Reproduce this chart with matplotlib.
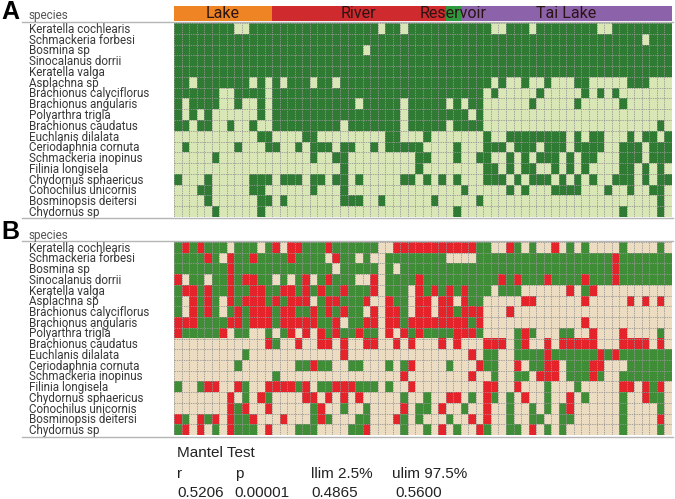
import numpy as np
import matplotlib
matplotlib.use("Agg")
import matplotlib.pyplot as plt
import matplotlib.transforms as mtransforms
from matplotlib.colors import ListedColormap
from matplotlib.lines import Line2D
from matplotlib import font_manager

W, H = 675, 499

species = ["Keratella cochlearis", "Schmackeria forbesi", "Bosmina sp", "Sinocalanus dorrii",
           "Keratella valga", "Asplachna sp", "Brachionus calyciflorus", "Brachionus angularis",
           "Polyarthra trigla", "Brachionus caudatus", "Euchlanis dilalata", "Ceriodaphnia cornuta",
           "Schmackeria inopinus", "Filinia longisela", "Chydornus sphaericus", "Conochilus unicornis",
           "Bosminopsis deitersi", "Chydornus sp"]

groups = ["Lake", "River", "Reservoir", "Tai Lake"]
group_sizes = [13, 23, 2, 28]          # number of sampling sites in each group
group_colors = ["#ee8424", "#cf2a2e", "#2f9a3d", "#8c62ab"]

# panel A: 1 = species present (dark), 0 = absent (light); blocks of 11 sites
presence = [
    "11111111001 11111111111 11111011011 11111111100 11101111111 10011111111",
    "11111111111 11111111111 11111111111 11111111111 11111111111 11111110111",
    "11111111111 11111111111 11101111111 11111111111 11111111111 11111111111",
    "11111111111 11111111111 11111111111 11111111111 11111111111 11111111111",
    "11111111111 11111111111 11111111111 11111111111 11111111111 11111111111",
    "11011111110 10101110110 11111111111 11111111101 00100100011 00000111000",
    "11111100111 10111111111 11111111111 11111111010 00001000001 01010000000",
    "10111100100 10111111111 11011111011 11101011000 00010000010 00001000000",
    "10101000000 10111111111 11111111011 11111101000 00000000000 00000000000",
    "11011001001 00111111111 01111111011 11101111000 00000000000 00000000010",
    "00000000000 11000011000 00000011000 10000000100 11111111010 11000101101",
    "01000000100 01100101110 11001011111 00001000111 01110111011 11001110111",
    "00000100000 00000001001 10000000001 10001001100 10101110101 10001110111",
    "00000000000 00000000000 10000000001 00000000110 10110010101 00001101010",
    "10001000001 11011101101 10100000110 10101000111 01011101010 10011101011",
    "00011000001 10000001000 10000000000 00000100000 10100011110 00100100110",
    "00001000000 11010000000 11100100000 01000001000 00000000000 00000000010",
    "00000100000 10000000000 00000000000 00001000000 00000000000 00001000010",
]

# panel B: g = green, r = red, b = beige
compare = [
    "grgrgggbggg bgrbrrgggrg gggggbbrrrr rrrrrrrggbb rgbgbbrbgbg bbbbgbbbbgb",
    "ggggrgbrggr ggggrggggbr ggbgbbggggg gggbbbbgggg ggggggggggg gggrggggggg",
    "gggggggrggg ggggggggggb gggggbgbggg ggggggggggg ggggggggggg gggrggggggg",
    "rbggbggrgrr ggbgbgrbgrg ggbbrbggggr ggggggggggr grgggrggggr gggrggggggg",
    "grrgrggrggr rggrrgrgrgg rgggrbgggbr grgrgrgggbg ggbbbbbbrbg rbbbbbbbbbb",
    "gbrgrgbrgrr rgrgrrrbgrr gggrbbrggbr rbrrbrggbbb bbrrbbbbbbr bbbbbrbrbrb",
    "gbrgrgbgrgr rrgrrggrgrg rggbrbrrgbr rbrrgrrrbbb rbbbbbbbbbb bbbbbbbbbbb",
    "rrrggggrrgr rrgrrrrrggr bggrrbrrgrr rrrrrrgrbbb bbbbbbbbbbr bbbbbbbbbbb",
    "rgggggrbggb bgbgrbrbrgr ggrggbrbrgr ggggrrrgbbb bgrgbbbggbb rbbbrbbbbgb",
    "bbbbbbbbbbb brgbbrbbrrb rbbrrbbrbrb bbrbrbbbrrr bgrbbrbrrrr rbbbrrrrbrb",
    "bbbbbbbbbgb bbbbbbbbbbb rbbbbbbbbbb bbbbbbrbggb bggggrggggg grgrggggggg",
    "bbbbbbbbgbb bbbbbggrggb bggbbbgbgrb bbbgbbbrggb brbggrrbggg rrbbbgggggg",
    "bbbbbbbbbbb bbgbbbbbbbb bbbbbbbbrbb bbbbbbrbbgb bggbrrrbggg rgbbggggggg",
    "gbbgrrbbrgb brrrrgrbggr rrgggbgbbrb bbbbbbbbrrb brbbbgbbbgb bbbbrrbrgrb",
    "bbbbbbbrbgb rgbbbbrrbrb rbrbbbbbgbb gbbrrbgbrgb gbrbbgbbrbg bbbbgbbrggb",
    "bbbbbbbrgrb brbbbbbgrbb gbbgbbbbrbg gbrbbgbbrbb gbbgbgbgrbb bbbbgbbbbgb",
    "rgbrgrbrggr bbbrbbbgrgb bbggbbbrgbg bbbgbbrbrbb gbbggbbggbb bbbbgbbbbrb",
    "grbrbgbrggg brbbbgggbbb bggrbbbbgbb gbrbgbbrgbb ggbrbgbgbbb bbbbgbbbbgb",
]

mantel_title = "Mantel Test"
mantel_head = ["r", "p", "llim 2.5%", "ulim 97.5%"]
mantel_vals = ["0.5206", "0.00001", "0.4865", "0.5600"]

# ---------------------------------------------------------------
names = {f.name for f in font_manager.fontManager.ttflist}
label_font = ["Roboto", "Liberation Sans", "DejaVu Sans"]
label_size = 8.4 if "Roboto" in names else 8.2

A = np.array([[int(c) for c in row.replace(" ", "")] for row in presence])
codes = {"b": 0, "g": 1, "r": 2}
B = np.array([[codes[c] for c in row.replace(" ", "")] for row in compare])
nrow, ncol = A.shape


def fx(px):
    return px / W


def fy(py):
    return 1 - py / H


fig = plt.figure(figsize=(W / 100, H / 100), dpi=100)


def heat(ax, data, cmap):
    ax.imshow(data, cmap=cmap, aspect="auto", interpolation="nearest",
              vmin=0, vmax=cmap.N - 1)
    ax.set_xticks(np.arange(-0.5, ncol, 1), minor=True)
    ax.set_yticks(np.arange(-0.5, nrow, 1), minor=True)
    ax.grid(which="minor", color="#969696", linestyle=(0, (1.6, 1.2)), linewidth=0.6)
    ax.tick_params(which="both", length=0, labelbottom=False, labelleft=False)
    ax.set_xticks([])
    ax.set_yticks([])
    for s in ax.spines.values():
        s.set_visible(False)
    tr = mtransforms.blended_transform_factory(fig.transFigure, ax.transData)
    for i, name in enumerate(species):
        ax.text(fx(29), i + 0.08, name, transform=tr, ha="left", va="center",
                fontsize=label_size, family=label_font, color="#383838", clip_on=False)


axA = fig.add_axes([fx(174), fy(217), fx(498), 194 / H])
heat(axA, A, ListedColormap(["#d9e6b6", "#2f7b33"]))

axB = fig.add_axes([fx(174), fy(435), fx(498), 193 / H])
heat(axB, B, ListedColormap(["#ecdcc1", "#3f8d37", "#e5232a"]))

# sampling-site group bar
axG = fig.add_axes([fx(174), fy(21), fx(498), 15 / H])
left = np.concatenate([[0], np.cumsum(group_sizes)[:-1]]) - 0.5
axG.barh(0, group_sizes, left=left, height=1, color=group_colors, edgecolor="none")
for g, l, s in zip(groups, left, group_sizes):
    axG.text(l + s / 2, 0.0, g, ha="center", va="center", fontsize=11.5,
             family=label_font, color="#2b1414")
axG.set_xlim(-0.5, ncol - 0.5)
axG.set_ylim(-0.5, 0.5)
axG.axis("off")

# panel letters, header words and rules
fig.text(fx(1), fy(12), "A", fontsize=18, fontweight="bold", family="Liberation Sans",
         va="center", ha="left")
fig.text(fx(1), fy(232), "B", fontsize=18, fontweight="bold", family="Liberation Sans",
         va="center", ha="left")
fig.text(fx(29), fy(16), "species", fontsize=8.5, family=label_font, color="#555555", va="center")
fig.text(fx(29), fy(235), "species", fontsize=8.5, family=label_font, color="#555555", va="center")
for yy in (22, 218, 241, 437):
    fig.add_artist(Line2D([fx(22), fx(673)], [fy(yy), fy(yy)], color="#b5b5b5", lw=1.0))

# Mantel test table
fig.text(fx(177), fy(457), mantel_title, fontsize=11, family="Liberation Sans",
         color="#222222", va="baseline")
xs = [177, 235, 311, 392]
xv = [177, 234, 311, 395]
for x, h in zip(xs, mantel_head):
    fig.text(fx(x), fy(478), h, fontsize=11, family="Liberation Sans", color="#222222",
             va="baseline")
for x, v in zip(xv, mantel_vals):
    fig.text(fx(x), fy(497), v, fontsize=11, family="Liberation Sans", color="#222222",
             va="baseline")

fig.savefig("out.png", dpi=100)
